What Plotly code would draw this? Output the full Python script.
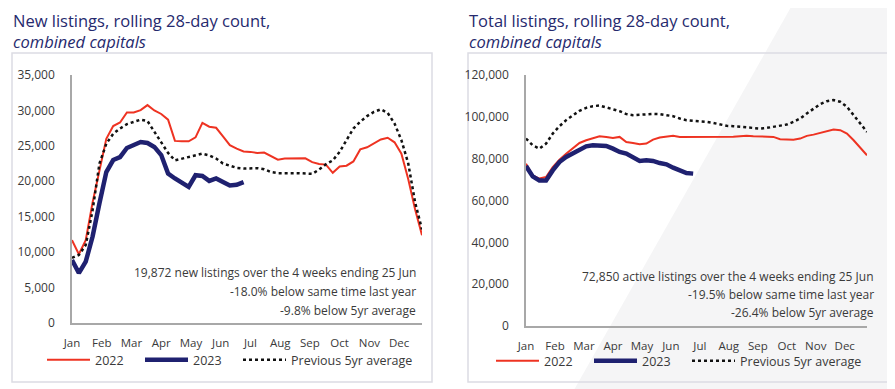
import plotly.graph_objects as go

weeks = list(range(52))
month_labels = ["Jan", "Feb", "Mar", "Apr", "May", "Jun", "Jul", "Aug", "Sep", "Oct", "Nov", "Dec"]
month_pos = [i * 52 / 12 for i in range(12)]

new_2022 = [11700, 9700, 11700, 17000, 21500, 26000, 27800, 28300, 29700, 29700, 30050, 30750,
            30000, 29500, 28700, 25700, 25650, 25650, 26200, 28250, 27700, 27550, 26350, 25100,
            24600, 24200, 24150, 24000, 24050, 23600, 23050, 23200, 23200, 23200, 23250, 22700,
            22450, 22350, 21200, 22100, 22200, 22800, 24500, 24800, 25300, 25900, 26150, 25500,
            23900, 20300, 16000, 12400]
new_2023 = [8900, 7050, 8650, 12200, 16900, 21300, 23000, 23400, 24700, 25100, 25550, 25400,
            24850, 23700, 21100, 20400, 19750, 19200, 20850, 20750, 20050, 20400, 19900, 19400,
            19500, 19872]
new_avg = [9200, 9600, 11000, 15900, 22500, 25300, 26700, 27450, 28060, 28400, 28700, 28500,
           27000, 25550, 24000, 22950, 23200, 23450, 23650, 23900, 23650, 23200, 22500, 22150,
           21900, 21800, 21850, 21850, 21700, 21300, 21150, 21200, 21150, 21150, 21050, 21050,
           21650, 22400, 22950, 24150, 25800, 27450, 28400, 29200, 29800, 30150, 29650, 28150,
           25800, 22500, 17000, 13200]

tot_2022 = [77600, 72000, 70500, 71200, 76000, 79500, 82400, 84800, 87500, 88800, 89900, 90700,
            90400, 89900, 90400, 88000, 87500, 86900, 87200, 89100, 90100, 90400, 90900, 90400,
            90400, 90400, 90400, 90200, 90400, 90400, 90400, 90500, 90700, 90900, 90700, 90700,
            90500, 90400, 89300, 89100, 89100, 89600, 90900, 91500, 92300, 93300, 93900, 93600,
            92000, 88800, 85100, 81600]
tot_2023 = [76500, 71500, 69600, 69600, 74400, 78400, 80800, 82400, 84300, 85900, 86400, 86400,
            86100, 84800, 83200, 82400, 80800, 78900, 79200, 78900, 77900, 77300, 75700, 74400,
            73100, 72850]
tot_avg = [89600, 86400, 84800, 87200, 92000, 95500, 98400, 100800, 102900, 104300, 105100, 105400,
           104500, 103500, 102700, 101300, 100800, 101000, 101300, 101400, 101300, 100800, 100300, 99200,
           98400, 98100, 97900, 97600, 97100, 96300, 95700, 95500, 95200, 94900, 94400, 94400,
           94700, 95200, 95500, 96300, 97600, 99200, 101600, 103700, 106100, 107500, 108000, 107200,
           104800, 100800, 96800, 92800]

new_ticks = [0, 5000, 10000, 15000, 20000, 25000, 30000, 35000]
tot_ticks = [0, 20000, 40000, 60000, 80000, 100000, 120000]

RED = "#ee3322"
NAVY = "#1f2170"
TXT = "#3a3a3a"
TITLE = "#262a6e"
FONT = "Open Sans"
W, H = 895, 389
OFF = 8  # the page body adds an 8px margin around the figure

fig = go.Figure()


def px_x(p):
    return (p - OFF) / W


def px_y(p):
    return 1 - (p - OFF) / H


def add_panel(xa, ya, legs, s22, s23, avg):
    fig.add_trace(go.Scatter(x=weeks[:len(s22)], y=s22, mode="lines", name="2022",
                             line=dict(color=RED, width=2), xaxis=xa, yaxis=ya, legend=legs[0]))
    fig.add_trace(go.Scatter(x=weeks[:len(s23)], y=s23, mode="lines", name="2023",
                             line=dict(color=NAVY, width=4.5), xaxis=xa, yaxis=ya, legend=legs[1]))
    fig.add_trace(go.Scatter(x=weeks[:len(avg)], y=avg, mode="lines", name="Previous 5yr average",
                             line=dict(color="#111111", width=2.5, dash="dot"), xaxis=xa, yaxis=ya,
                             legend=legs[2]))


add_panel("x", "y", ["legend", "legend2", "legend3"], new_2022, new_2023, new_avg)
add_panel("x2", "y2", ["legend4", "legend5", "legend6"], tot_2022, tot_2023, tot_avg)

xcommon = dict(range=[0, 51], tickmode="array", tickvals=month_pos, ticktext=month_labels,
               showgrid=False, zeroline=False, showline=True, linecolor="#a8a8a8", linewidth=1.5,
               ticks="", ticklabelstandoff=8, tickfont=dict(family=FONT, size=11.5, color=TXT),
               fixedrange=True)
ycommon = dict(showgrid=False, zeroline=False, showline=True, linecolor="#a8a8a8", linewidth=1.5,
               ticks="", ticklabelstandoff=13, tickformat=",", tickfont=dict(family=FONT, size=12, color=TXT),
               fixedrange=True)


def legend_at(x, y):
    return dict(orientation="h", x=px_x(x), y=px_y(y), xanchor="left", yanchor="middle",
                font=dict(family=FONT, size=12.5, color=TXT), itemwidth=43,
                bgcolor="rgba(0,0,0,0)", borderwidth=0)


fig.update_layout(
    width=W, height=H, margin=dict(l=0, r=0, t=0, b=0, autoexpand=False),
    paper_bgcolor="white", plot_bgcolor="rgba(0,0,0,0)",
    font=dict(family=FONT, color=TXT),
    xaxis=dict(domain=[px_x(72), px_x(422)], anchor="y", **xcommon),
    yaxis=dict(domain=[px_y(323), px_y(75)], anchor="x", range=[0, 35000],
               tickvals=new_ticks, **ycommon),
    xaxis2=dict(domain=[px_x(526), px_x(867)], anchor="y2", **xcommon),
    yaxis2=dict(domain=[px_y(326), px_y(75)], anchor="x2", range=[0, 120000],
                tickvals=tot_ticks, **ycommon),
    legend=legend_at(42, 360),
    legend2=legend_at(140, 360),
    legend3=legend_at(238, 360),
    legend4=legend_at(491, 361),
    legend5=legend_at(589, 361),
    legend6=legend_at(687, 361),
    showlegend=True,
)

# background diagonal shading and panel boxes
fig.add_shape(type="path", xref="paper", yref="paper", layer="below",
              path=f"M {px_x(795)},{px_y(0)} L {px_x(903)},{px_y(0)} L {px_x(903)},{px_y(397)} "
                   f"L {px_x(570)},{px_y(397)} Z",
              fillcolor="#f5f5f6", line=dict(width=0))
for x0, x1 in [(12, 432), (468, 888)]:
    fig.add_shape(type="rect", xref="paper", yref="paper", layer="below",
                  x0=px_x(x0), x1=px_x(x1), y0=px_y(382), y1=px_y(53),
                  line=dict(color="#dcdce3", width=1.5), fillcolor="rgba(0,0,0,0)")

titles = [
    (12, "New listings, rolling 28-day count,"),
    (468, "Total listings, rolling 28-day count,"),
]
for x, t in titles:
    fig.add_annotation(xref="paper", yref="paper", x=px_x(x), y=px_y(8.2),
                       text=t + "<br><i>combined capitals</i>", showarrow=False, align="left",
                       xanchor="left", yanchor="top", borderpad=0,
                       font=dict(family=FONT, size=16.5, color=TITLE))

notes = [
    (418, [272, 291, 310], ["19,872 new listings over the 4 weeks ending 25 Jun",
                            "-18.0% below same time last year", "-9.8% below 5yr average"]),
    (876, [276, 294, 312], ["72,850 active listings over the 4 weeks ending 25 Jun",
                            "-19.5% below same time last year", "-26.4% below 5yr average"]),
]
for x, ys, lines in notes:
    for y, t in zip(ys, lines):
        fig.add_annotation(xref="paper", yref="paper", x=px_x(x), y=px_y(y), text=t, showarrow=False,
                           xanchor="right", yanchor="middle", font=dict(family=FONT, size=12, color=TXT))

fig.write_html("out.html")
